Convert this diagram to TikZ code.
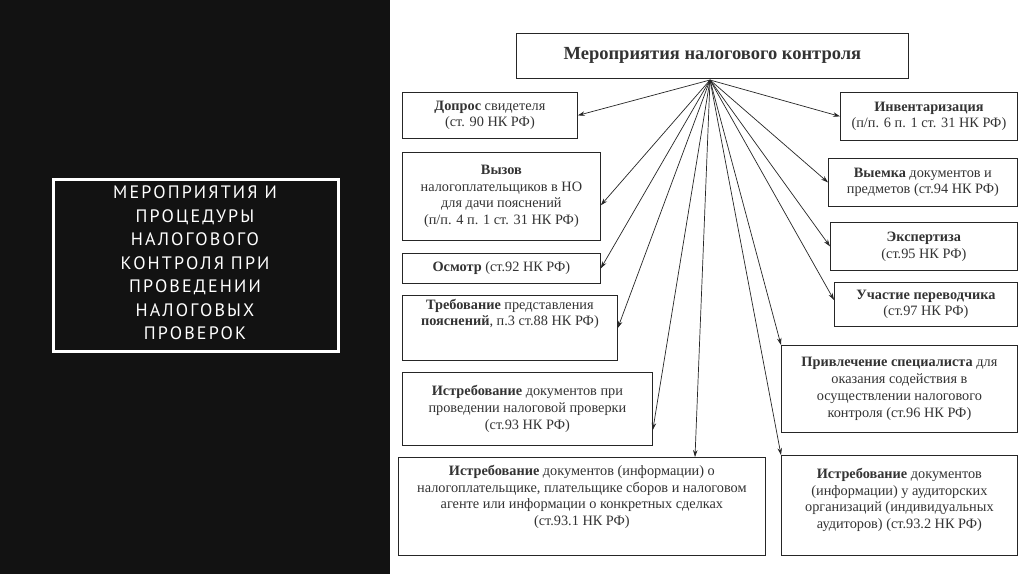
\documentclass[tikz,border=0pt]{standalone}
\usepackage{fontspec}
\setmainfont{Liberation Serif}
\newfontfamily\titlefont[LetterSpace=12]{PT Sans}
\usetikzlibrary{arrows.meta,calc}
\begin{document}
\begin{tikzpicture}[x=1pt,y=-1pt,
  box/.style={draw=black!85,line width=0.8pt,anchor=north west,inner sep=1pt,align=center,
    font=\fontsize{14.3}{16.8}\selectfont,text=black!80},
  arr/.style={-{Stealth[length=7pt,width=4.5pt]},line width=0.7pt,black!85}]
\useasboundingbox (0,0) rectangle (1024,574);
\fill[black!93] (0,0) rectangle (390,574);
\fill[white] (390,0) rectangle (1024,574);
\node[draw=white!70,line width=3pt,minimum width=285pt,minimum height=172pt,anchor=north west] (tb) at (52,178) {};
\node[draw=white,line width=1pt,minimum width=285pt,minimum height=172pt,anchor=north west] (tb2) at (52,178) {};
\node[text=white,align=center,font=\titlefont\fontsize{18}{23.5}\selectfont] (tt) at (195,263)
 {МЕРОПРИЯТИЯ И\\ПРОЦЕДУРЫ\\НАЛОГОВОГО\\КОНТРОЛЯ ПРИ\\ПРОВЕДЕНИИ\\НАЛОГОВЫХ\\ПРОВЕРОК};
\node[box,minimum width=392pt,minimum height=45pt,font=\bfseries\fontsize{18.5}{20}\selectfont] (top) at (516,33) {Мероприятия налогового контроля};
\coordinate (hub) at (710,80);
\node[box,minimum width=175pt,minimum height=46pt] (dop) at (402,92) {\textbf{Допрос} свидетеля\\(ст. 90 НК РФ)};
\node[box,minimum width=198pt,minimum height=88pt] (vyz) at (402,152) {\textbf{Вызов}\\налогоплательщиков в НО\\для дачи пояснений\\(п/п. 4 п. 1 ст. 31 НК РФ)};
\node[box,minimum width=198pt,minimum height=30pt] (osm) at (402,253) {\textbf{Осмотр} (ст.92 НК РФ)};
\node[box,minimum width=215pt,minimum height=65pt,text depth=24pt,text height=20pt] (treb) at (402,295) {\textbf{Требование} представления\\\textbf{пояснений}, п.3 ст.88 НК РФ)};
\node[box,minimum width=250pt,minimum height=73pt] (ist1) at (402,372) {\textbf{Истребование} документов при\\проведении налоговой проверки\\(ст.93 НК РФ)};
\node[box,minimum width=367pt,minimum height=98pt,text depth=22pt] (ist2) at (398,457) {\textbf{Истребование} документов (информации) о\\налогоплательщике, плательщике сборов и налоговом\\агенте или информации о конкретных сделках\\(ст.93.1 НК РФ)};
\node[box,minimum width=177pt,minimum height=48pt] (inv) at (840,92) {\textbf{Инвентаризация}\\(п/п. 6 п. 1 ст. 31 НК РФ)};
\node[box,minimum width=189pt,minimum height=48pt] (vyem) at (828,158) {\textbf{Выемка} документов и\\предметов (ст.94 НК РФ)};
\node[box,minimum width=187pt,minimum height=48pt] (exp) at (830,222) {\textbf{Экспертиза}\\(ст.95 НК РФ)};
\node[box,minimum width=183pt,minimum height=44pt] (uch) at (834,282) {\textbf{Участие переводчика}\\(ст.97 НК РФ)};
\node[box,minimum width=236pt,minimum height=87pt] (priv) at (781,345) {\textbf{Привлечение специалиста} для\\оказания содействия в\\осуществлении налогового\\контроля (ст.96 НК РФ)};
\node[box,minimum width=236pt,minimum height=100pt,text depth=14pt] (ist3) at (781,455) {\textbf{Истребование} документов\\(информации) у аудиторских\\организаций (индивидуальных\\аудиторов) (ст.93.2 НК РФ)};
\draw[arr] (hub) -- (dop.east);
\draw[arr] (hub) -- ($(vyz.north east)!0.6!(vyz.south east)$);
\draw[arr] (hub) -- (osm.east);
\draw[arr] (hub) -- ($(treb.north east)+(0,33)$);
\draw[arr] (hub) -- ($(ist1.north east)+(0,58)$);
\draw[arr] (hub) -- ($(ist2.north west)+(297,0)$);
\draw[arr] (hub) -- (inv.west);
\draw[arr] (hub) -- (vyem.west);
\draw[arr] (hub) -- (exp.west);
\draw[arr] (hub) -- ($(uch.north west)+(0,18)$);
\draw[arr] (hub) -- (priv.north west);
\draw[arr] (hub) -- (ist3.north west);
\end{tikzpicture}
\end{document}
